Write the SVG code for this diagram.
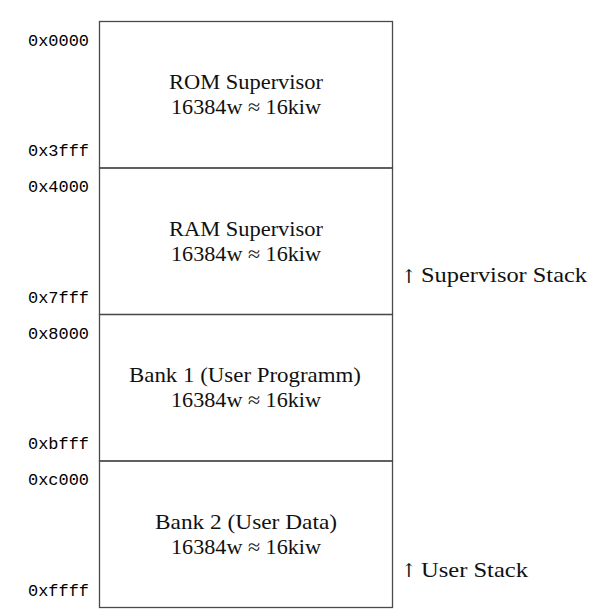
<svg xmlns="http://www.w3.org/2000/svg" width="605" height="616" viewBox="0 0 605 616">
  <style>
    .frame { fill: none; stroke: #4a4a4a; stroke-width: 1.3; }
    .addr { font-family: "Liberation Mono", "DejaVu Sans Mono", monospace; font-size: 16px; fill: #000; }
    .lbl { font-family: "Liberation Serif", "DejaVu Serif", serif; font-size: 21px; fill: #111; text-anchor: middle; }
    .side { font-family: "Liberation Serif", "DejaVu Serif", serif; font-size: 21px; fill: #111; }
    .arrow { font-family: "DejaVu Serif", serif; font-size: 19px; fill: #111; }
  </style>
  <rect width="605" height="616" fill="#ffffff"/>

  <!-- ROM Supervisor region -->
  <g id="rom-supervisor">
    <rect class="frame" x="99.5" y="21.5" width="293" height="146.5"/>
    <text class="lbl" x="246" y="89" textLength="154" lengthAdjust="spacingAndGlyphs">ROM Supervisor</text>
    <text class="lbl" x="246" y="114.3" textLength="150" lengthAdjust="spacingAndGlyphs">16384w ≈ 16kiw</text>
    <text class="addr" x="28" y="45.5" textLength="61" lengthAdjust="spacingAndGlyphs">0x0000</text>
    <text class="addr" x="28" y="156" textLength="61" lengthAdjust="spacingAndGlyphs">0x3fff</text>
  </g>

  <!-- RAM Supervisor region -->
  <g id="ram-supervisor">
    <rect class="frame" x="99.5" y="168" width="293" height="146.5"/>
    <text class="lbl" x="246" y="235.5" textLength="154" lengthAdjust="spacingAndGlyphs">RAM Supervisor</text>
    <text class="lbl" x="246" y="260.8" textLength="150" lengthAdjust="spacingAndGlyphs">16384w ≈ 16kiw</text>
    <text class="addr" x="28" y="192" textLength="61" lengthAdjust="spacingAndGlyphs">0x4000</text>
    <text class="addr" x="28" y="302.5" textLength="61" lengthAdjust="spacingAndGlyphs">0x7fff</text>
  </g>

  <!-- Bank 1 region -->
  <g id="bank-1">
    <rect class="frame" x="99.5" y="314.5" width="293" height="146.5"/>
    <text class="lbl" x="245" y="382" textLength="232" lengthAdjust="spacingAndGlyphs">Bank 1 (User Programm)</text>
    <text class="lbl" x="246" y="407.3" textLength="150" lengthAdjust="spacingAndGlyphs">16384w ≈ 16kiw</text>
    <text class="addr" x="28" y="338.5" textLength="61" lengthAdjust="spacingAndGlyphs">0x8000</text>
    <text class="addr" x="28" y="449" textLength="61" lengthAdjust="spacingAndGlyphs">0xbfff</text>
  </g>

  <!-- Bank 2 region -->
  <g id="bank-2">
    <rect class="frame" x="99.5" y="461" width="293" height="146.5"/>
    <text class="lbl" x="246" y="528.5" textLength="182" lengthAdjust="spacingAndGlyphs">Bank 2 (User Data)</text>
    <text class="lbl" x="246" y="553.8" textLength="150" lengthAdjust="spacingAndGlyphs">16384w ≈ 16kiw</text>
    <text class="addr" x="28" y="485" textLength="61" lengthAdjust="spacingAndGlyphs">0xc000</text>
    <text class="addr" x="28" y="595.5" textLength="61" lengthAdjust="spacingAndGlyphs">0xffff</text>
  </g>

  <!-- stack growth markers -->
  <g id="supervisor-stack">
    <text class="arrow" x="401" y="283">↑</text>
    <text class="side" x="421" y="282.3" textLength="166" lengthAdjust="spacingAndGlyphs">Supervisor Stack</text>
  </g>
  <g id="user-stack">
    <text class="arrow" x="401" y="577">↑</text>
    <text class="side" x="421" y="576.5" textLength="107" lengthAdjust="spacingAndGlyphs">User Stack</text>
  </g>

  <g id="connectors"/>
</svg>
